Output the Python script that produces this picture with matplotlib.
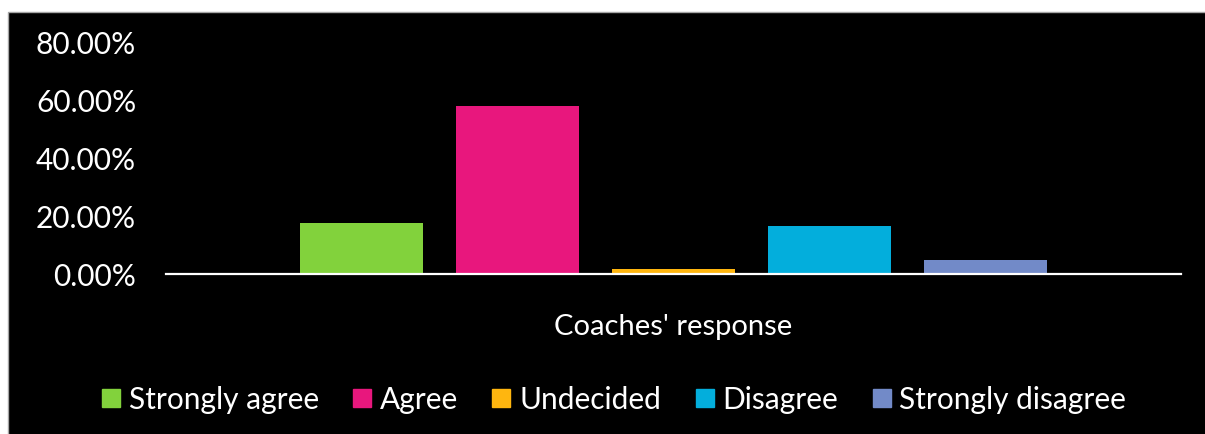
import matplotlib
matplotlib.use("Agg")
import matplotlib.pyplot as plt
from matplotlib.patches import Rectangle
from matplotlib.lines import Line2D
from matplotlib.ticker import FuncFormatter

category = "Coaches' response"
series_names = ["Strongly agree", "Agree", "Undecided", "Disagree", "Strongly disagree"]
values = [0.177, 0.581, 0.017, 0.167, 0.049]
colors = ["#82d23c", "#e8177d", "#ffb60f", "#03aedc", "#728ac8"]
yticks = [0.0, 0.2, 0.4, 0.6, 0.8]

plt.rcParams['font.family'] = ['Lato', 'DejaVu Sans']

W, H = 1205, 435
fig = plt.figure(figsize=(W / 100, H / 100), dpi=100, facecolor="white")
fig.patches.append(Rectangle((8 / W, -0.01), 1.0, (H - 13) / H + 0.01,
                             transform=fig.transFigure, facecolor="black",
                             edgecolor="#a6a6a6", linewidth=1.0, zorder=-5))

ax = fig.add_axes([166 / W, 1 - 275 / H, (1181 - 166) / W, (275 - 43) / H])
ax.set_zorder(2)
ax.set_facecolor("none")

bar_w = 123 / 1015
step = 156 / 1015
n = len(values)
for i, (name, v, c) in enumerate(zip(series_names, values, colors)):
    ax.bar((i - (n - 1) / 2) * step, v, width=bar_w, color=c, label=name, zorder=2)

ax.set_xlim(-0.5, 0.5)
ax.set_ylim(0, 0.8)
ax.set_yticks(yticks)
ax.yaxis.set_major_formatter(FuncFormatter(lambda v, p: f"{v * 100:.2f}%"))
ax.set_xticks([])
for s in ["top", "right", "left"]:
    ax.spines[s].set_visible(False)
ax.spines["bottom"].set_color("white")
ax.spines["bottom"].set_linewidth(1.6)
ax.spines["bottom"].set_zorder(3)
ax.tick_params(axis="y", length=0, pad=21.5, labelsize=21.5, labelcolor="white")

t = fig.text(673 / W, 1 - 327 / H, category, color="white", fontsize=21,
             ha="center", va="center")
t.set_zorder(3)

handles = [Line2D([], [], linestyle="none", marker="s", markersize=13,
                  markerfacecolor=c, markeredgecolor=c) for c in colors]
leg = fig.legend(handles, series_names, loc="center", ncol=5,
                 bbox_to_anchor=(614 / W, 1 - 400 / H), frameon=False,
                 fontsize=21.5, labelcolor="white", handlelength=0.6,
                 handletextpad=0.3, columnspacing=1.15, borderpad=0)
leg.set_zorder(3)

fig.savefig("out.png", dpi=100, facecolor="white")
